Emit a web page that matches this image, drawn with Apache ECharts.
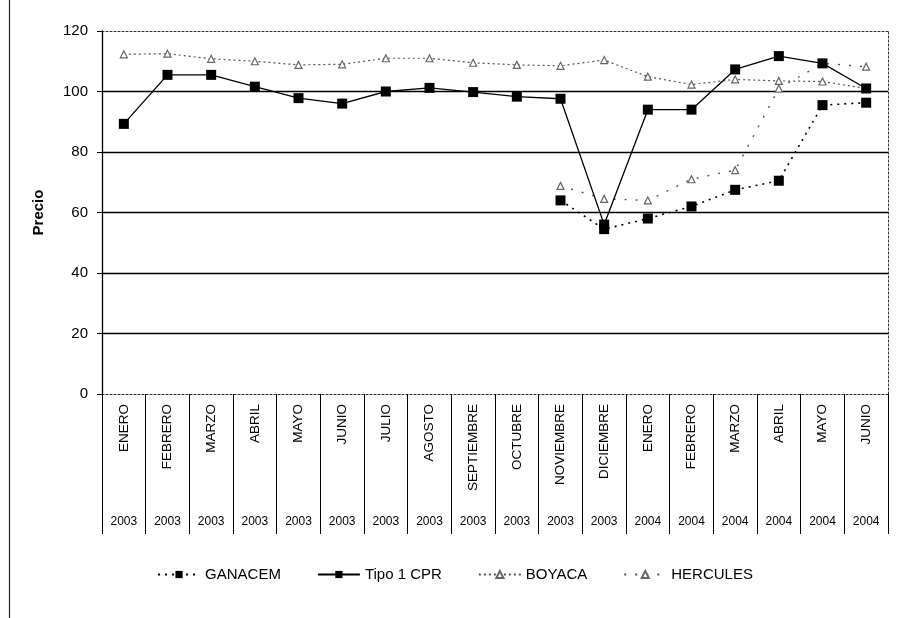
<!DOCTYPE html>
<html>
<head>
<meta charset="utf-8">
<script src="https://cdn.jsdelivr.net/npm/echarts@6/dist/echarts.min.js"></script>
<style>
  html, body { margin: 0; padding: 0; background: #fff; }
  #chart { width: 910px; height: 618px; }
</style>
</head>
<body>
<div id="chart"></div>
<script>
// Monthly price series, Jan 2003 – Jun 2004
const months = ['ENERO', 'FEBRERO', 'MARZO', 'ABRIL', 'MAYO', 'JUNIO', 'JULIO', 'AGOSTO',
  'SEPTIEMBRE', 'OCTUBRE', 'NOVIEMBRE', 'DICIEMBRE', 'ENERO', 'FEBRERO', 'MARZO', 'ABRIL', 'MAYO', 'JUNIO'];
const years = ['2003', '2003', '2003', '2003', '2003', '2003', '2003', '2003', '2003',
  '2003', '2003', '2003', '2004', '2004', '2004', '2004', '2004', '2004'];

const ganacem  = [null, null, null, null, null, null, null, null, null, null, 64, 54.5, 58, 62, 67.5, 70.5, 95.5, 96.3];
const tipo1Cpr = [89.3, 105.5, 105.5, 101.6, 97.8, 96, 100, 101.2, 99.8, 98.3, 97.6, 56, 94, 94, 107.3, 111.7, 109.3, 101];
const boyaca   = [112.3, 112.5, 110.8, 110, 108.8, 109, 111, 111, 109.5, 108.8, 108.5, 110.4, 104.9, 102.3, 104, 103.5, 103.3, 101];
const hercules = [null, null, null, null, null, null, null, null, null, null, 68.8, 64.5, 64, 71, 74, 101, 109.3, 108.2];

const yTicks = [0, 20, 40, 60, 80, 100, 120];

const FONT = 'Liberation Sans, Arial, sans-serif';
const INK = '#000';

const chart = echarts.init(document.getElementById('chart'), null, { renderer: 'canvas' });

chart.setOption({
  backgroundColor: '#fff',
  animation: false,
  textStyle: { fontFamily: FONT, color: INK },
  graphic: [{
    // outer frame edge on the left
    type: 'line',
    shape: { x1: 9.5, y1: 0, x2: 9.5, y2: 618 },
    style: { stroke: '#222', lineWidth: 1.2 }
  }],
  grid: { left: 102, right: 22, top: 31, bottom: 224, containLabel: false },
  legend: {
    bottom: 31,
    left: 'center',
    itemGap: 36,
    itemWidth: 42,
    itemHeight: 9,
    textStyle: { fontFamily: FONT, fontSize: 15, color: INK },
    data: ['GANACEM', 'Tipo 1 CPR', 'BOYACA', 'HERCULES']
  },
  xAxis: [{
    type: 'category',
    data: months,
    position: 'bottom',
    boundaryGap: true,
    axisLine: { show: true, lineStyle: { color: '#333', width: 1, type: [2, 2] } },
    axisTick: { show: true, interval: 0, length: 140, lineStyle: { color: INK, width: 1 } },
    axisLabel: {
      interval: 0, rotate: 90, margin: 10,
      fontFamily: FONT, fontSize: 13.5, color: INK
    },
    splitLine: { show: false }
  }, {
    type: 'category',
    data: years,
    position: 'bottom',
    offset: 120,
    boundaryGap: true,
    axisLine: { show: false },
    axisTick: { show: false },
    axisLabel: { interval: 0, margin: 2, fontFamily: FONT, fontSize: 12, color: INK },
    splitLine: { show: false }
  }, {
    // dotted top edge of the plot area
    type: 'category',
    data: months,
    position: 'top',
    axisLine: { show: true, lineStyle: { color: '#333', width: 1, type: [2, 2] } },
    axisTick: { show: false },
    axisLabel: { show: false }
  }],
  yAxis: [{
    type: 'value',
    min: 0, max: 120, interval: 20,
    name: 'Precio',
    nameLocation: 'middle',
    nameGap: 56,
    nameRotate: 90,
    nameTextStyle: { fontFamily: FONT, fontSize: 15, fontWeight: 'bold', color: INK },
    axisLine: { show: true, lineStyle: { color: INK, width: 1.3 } },
    axisTick: { show: true, inside: false, length: 5, lineStyle: { color: INK } },
    axisLabel: {
      margin: 14, fontFamily: FONT, fontSize: 15, color: INK,
      formatter: v => (yTicks.indexOf(v) >= 0 ? String(v) : '')
    },
    splitLine: {
      show: true,
      lineStyle: { color: ['transparent', INK, INK, INK, INK, INK, 'transparent'], width: 1.3 }
    }
  }, {
    // dotted right edge of the plot area
    type: 'value',
    min: 0, max: 120, interval: 20,
    position: 'right',
    axisLine: { show: true, lineStyle: { color: '#333', width: 1, type: [2, 2] } },
    axisTick: { show: false },
    axisLabel: { show: false },
    splitLine: { show: false }
  }],
  series: [{
    name: 'GANACEM',
    type: 'line',
    data: ganacem,
    connectNulls: false,
    symbol: 'rect',
    symbolSize: 10,
    itemStyle: { color: INK },
    lineStyle: { color: INK, width: 1.6, type: [2, 5] },
    z: 4
  }, {
    name: 'Tipo 1 CPR',
    type: 'line',
    data: tipo1Cpr,
    symbol: 'rect',
    symbolSize: 10,
    itemStyle: { color: INK },
    lineStyle: { color: INK, width: 1.3, type: 'solid' },
    z: 5
  }, {
    name: 'BOYACA',
    type: 'line',
    data: boyaca,
    symbol: 'triangle',
    symbolSize: 7,
    itemStyle: { color: '#fff', borderColor: '#666', borderWidth: 1.2 },
    lineStyle: { color: '#555', width: 1.2, type: [2, 3] },
    z: 3
  }, {
    name: 'HERCULES',
    type: 'line',
    data: hercules,
    symbol: 'triangle',
    symbolSize: 7,
    itemStyle: { color: '#fff', borderColor: '#666', borderWidth: 1.2 },
    lineStyle: { color: '#555', width: 1.4, type: [2, 9] },
    z: 3
  }]
});
</script>
</body>
</html>
